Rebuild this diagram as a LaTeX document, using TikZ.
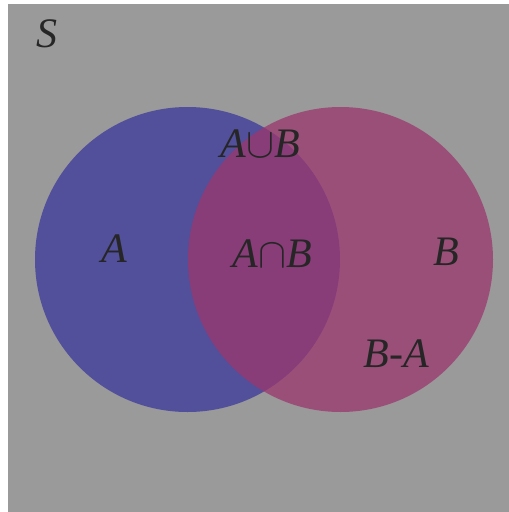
\RequirePackage{fix-cm}
\documentclass[tikz,border=0pt]{standalone}
\usepackage{fontspec}
\setmainfont{Liberation Serif}
\begin{document}
\begin{tikzpicture}[x=1pt,y=-1pt,
  lbl/.style={anchor=base,inner sep=0pt,text=black!85,font=\fontsize{42}{50}\selectfont\itshape}]
\useasboundingbox (0,0) rectangle (509,512);
\fill[white] (0,0) rectangle (509,512);
\fill[fill={rgb,255:red,154;green,154;blue,154}] (8,4) rectangle (509,512);
\fill[fill={rgb,255:red,82;green,79;blue,155}] (187.5,259.5) circle (152.5);
\fill[fill={rgb,255:red,155;green,55;blue,110},fill opacity=0.75] (340.5,259.5) circle (152.5);
\node[lbl] (s) at (47,47) {S};
\node[lbl] (a) at (114,262) {A};
\node[lbl] (b) at (446,265) {B};
\node[lbl] (u) at (260,157) {A$\mathord{\cup}$B};
\node[lbl] (i) at (272,267) {A$\mathord{\cap}$B};
\node[lbl] (d) at (396,367) {B-A};
\end{tikzpicture}
\end{document}
